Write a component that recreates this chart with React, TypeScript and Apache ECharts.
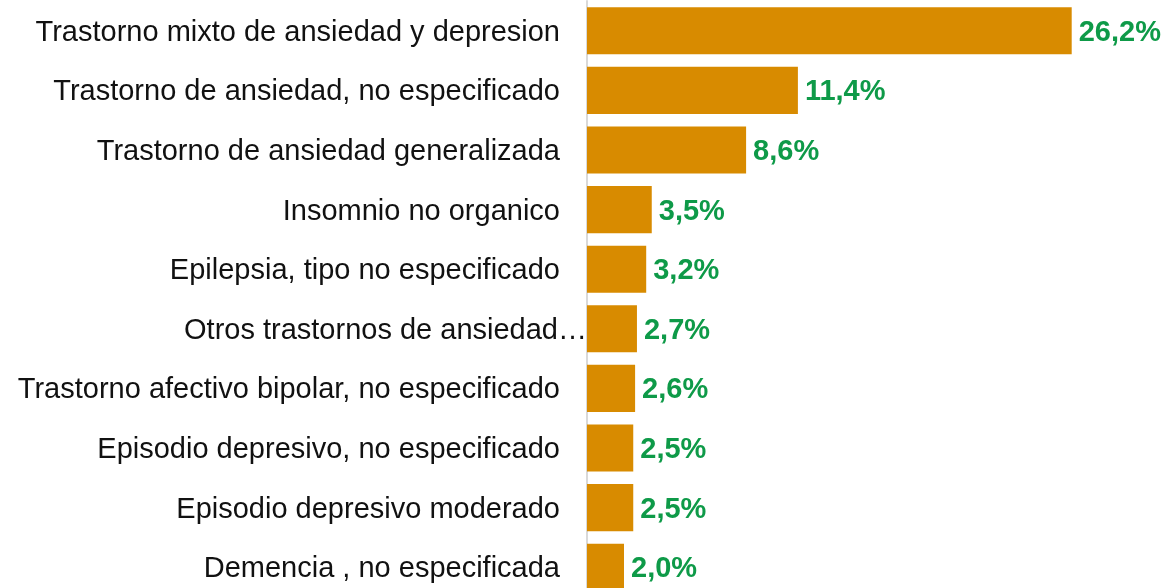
import React, { useEffect, useRef } from "react";
import * as echarts from "echarts";

const categories = [
  "Trastorno mixto de ansiedad y depresion",
  "Trastorno de ansiedad, no especificado",
  "Trastorno de ansiedad generalizada",
  "Insomnio no organico",
  "Epilepsia, tipo no especificado",
  "Otros trastornos de ansiedad…",
  "Trastorno afectivo bipolar, no especificado",
  "Episodio depresivo, no especificado",
  "Episodio depresivo moderado",
  "Demencia , no especificada",
];
const values = [26.2, 11.4, 8.6, 3.5, 3.2, 2.7, 2.6, 2.5, 2.5, 2.0];

const FONT = "Arial, 'Liberation Sans', sans-serif";

export default function App() {
  const ref = useRef<HTMLDivElement>(null);
  useEffect(() => {
    const chart = echarts.init(ref.current!, null, { renderer: "svg" });
    chart.setOption({
      animation: false,
      grid: { left: 587, top: 1, bottom: 3, right: 27, containLabel: false },
      xAxis: {
        type: "value",
        min: 0,
        max: 30,
        show: false,
      },
      yAxis: {
        type: "category",
        inverse: true,
        data: categories.map((c) =>
          c.endsWith("…") ? { value: c, textStyle: { padding: [0, -27, 0, 0] } } : c
        ),
        axisLine: { show: true, lineStyle: { color: "#d9d9d9", width: 2 } },
        axisTick: { show: false },
        axisLabel: {
          margin: 27,
          fontSize: 29,
          color: "#111111",
          fontFamily: FONT,
        },
        splitLine: { show: false },
      },
      series: [
        {
          type: "bar",
          data: values,
          barCategoryGap: "21%",
          itemStyle: { color: "#D88B00" },
          label: {
            show: true,
            position: "right",
            distance: 7,
            formatter: (p: any) => p.value.toFixed(1).replace(".", ",") + "%",
            color: "#0E9A48",
            fontWeight: "bold",
            fontSize: 29,
            fontFamily: FONT,
          },
        },
      ],
    });
    return () => chart.dispose();
  }, []);
  return (
    <div
      ref={ref}
      style={{ position: "fixed", left: 0, top: 0, width: 1169, height: 600 }}
    />
  );
}
